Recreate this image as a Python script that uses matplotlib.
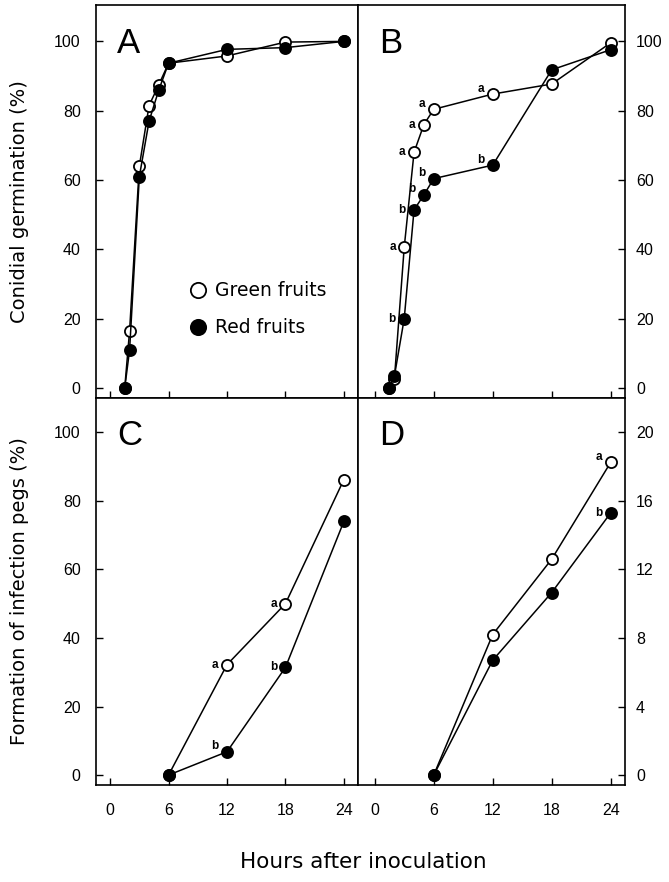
import numpy as np
import matplotlib
matplotlib.use('Agg')
import matplotlib.pyplot as plt
from matplotlib.lines import Line2D

plt.rcParams['font.family'] = ['Liberation Sans', 'DejaVu Sans']

# Panel A - conidial germination (%)
a_hours = [1.5, 2, 3, 4, 5, 6, 12, 18, 24]
a_green = [0, 16.5, 64, 81.5, 87.5, 93.7, 95.8, 99.8, 100]
a_red = [0, 11, 61, 77, 86, 93.7, 97.7, 98.2, 100]

# Panel B - conidial germination (%)
b_hours = [1.5, 2, 3, 4, 5, 6, 12, 18, 24]
b_green = [0, 2.5, 40.6, 68, 76, 80.4, 84.8, 87.7, 99.6]
b_red = [0, 3.4, 20, 51.4, 55.7, 60.4, 64.3, 91.8, 97.6]
b_green_sig = ['', '', 'a', 'a', 'a', 'a', 'a', '', '']
b_red_sig = ['', '', 'b', 'b', 'b', 'b', 'b', '', '']

# Panel C - infection pegs (%)
c_hours = [6, 12, 18, 24]
c_green = [0, 32.2, 50, 86.2]
c_red = [0, 6.8, 31.4, 74]
c_green_sig = ['', 'a', 'a', '']
c_red_sig = ['', 'b', 'b', '']

# Panel D - infection pegs (%)
d_hours = [6, 12, 18, 24]
d_green = [0, 8.2, 12.6, 18.25]
d_red = [0, 6.7, 10.65, 15.3]
d_green_sig = ['', '', '', 'a']
d_red_sig = ['', '', '', 'b']

fig = plt.figure(figsize=(6.69, 8.82), dpi=100)

x0, x1, x2 = 96/669, 358/669, 625/669
ytop, ymid, ybot = 1-5/882, 1-398/882, 1-785/882

axA = fig.add_axes([x0, ymid, x1-x0, ytop-ymid])
axB = fig.add_axes([x1, ymid, x2-x1, ytop-ymid])
axC = fig.add_axes([x0, ybot, x1-x0, ymid-ybot])
axD = fig.add_axes([x1, ybot, x2-x1, ymid-ybot])

mk = dict(ms=8, mew=1.3, lw=1.1, color='black', mec='black')


def draw(ax, hours, green, red):
    ax.plot(hours, green, marker='o', mfc='white', zorder=3, **mk)
    ax.plot(hours, red, marker='o', mfc='black', zorder=4, **mk)


def sig(ax, hours, vals, labels, up=()):
    for i, (h, v, s) in enumerate(zip(hours, vals, labels)):
        if not s:
            continue
        dy = 4 if i in up else 0
        ax.annotate(s, (h, v), xytext=(-6, dy), textcoords='offset points',
                    ha='right', va='center', fontsize=8.5, fontweight='bold')


draw(axA, a_hours, a_green, a_red)
draw(axB, b_hours, b_green, b_red)
draw(axC, c_hours, c_green, c_red)
draw(axD, d_hours, d_green, d_red)

sig(axB, b_hours, b_green, b_green_sig, up=(5, 6))
sig(axB, b_hours, b_red, b_red_sig, up=(4, 5, 6))
sig(axC, c_hours, c_green, c_green_sig)
sig(axC, c_hours, c_red, c_red_sig, up=(1,))
sig(axD, d_hours, d_green, d_green_sig, up=(3,))
sig(axD, d_hours, d_red, d_red_sig)

axA.set_xlim(-1.45, 25.45)
axC.set_xlim(-1.45, 25.45)
axB.set_xlim(-1.7, 25.45)
axD.set_xlim(-1.7, 25.45)
axA.set_ylim(-2.9, 110.5)
axB.set_ylim(-2.9, 110.5)
axC.set_ylim(-2.9, 110)
axD.set_ylim(-0.58, 22)

for ax in (axA, axB, axC, axD):
    ax.set_xticks([0, 6, 12, 18, 24])
    for s in ax.spines.values():
        s.set_linewidth(1.2)
    ax.tick_params(direction='in', length=5, width=1, labelsize=11.5)

for ax in (axA, axB):
    ax.tick_params(axis='x', labelbottom=False)

for ax in (axA, axC):
    ax.set_yticks([0, 20, 40, 60, 80, 100])
    ax.tick_params(axis='y', left=True, right=False, pad=11)

axB.set_yticks([0, 20, 40, 60, 80, 100])
axD.set_yticks([0, 4, 8, 12, 16, 20])
for ax in (axB, axD):
    ax.yaxis.tick_right()
    ax.tick_params(axis='y', left=False, right=True, labelleft=False,
                   labelright=True, pad=8)

for ax in (axC, axD):
    ax.tick_params(axis='x', pad=13)

for ax, lab in zip((axA, axB, axC, axD), 'ABCD'):
    ax.text(0.08, 0.945, lab, transform=ax.transAxes, fontsize=25,
            ha='left', va='top')

handles = [Line2D([], [], ls='none', marker='o', ms=11, mfc='white',
                  mec='black', mew=1.3, label='Green fruits'),
           Line2D([], [], ls='none', marker='o', ms=11, mfc='black',
                  mec='black', mew=1.3, label='Red fruits')]
axA.legend(handles=handles, loc='upper left', bbox_to_anchor=(0.295, 0.34),
           frameon=False, prop={'family': 'DejaVu Sans', 'size': 13.5},
           handlelength=0.8, handletextpad=0.5, labelspacing=0.95)

lab_font = {'family': 'DejaVu Sans'}
fig.text(20/669, 1-(5+398)/2/882, 'Conidial germination (%)', rotation=90,
         ha='center', va='center', fontsize=14, fontdict=lab_font)
fig.text(20/669, 1-(398+785)/2/882, 'Formation of infection pegs (%)',
         rotation=90, ha='center', va='center', fontsize=14,
         fontdict=lab_font)
fig.text(363/669, 1-862/882, 'Hours after inoculation', ha='center',
         va='center', fontsize=15.5, fontdict=lab_font)

plt.savefig('out.png', dpi=100)
